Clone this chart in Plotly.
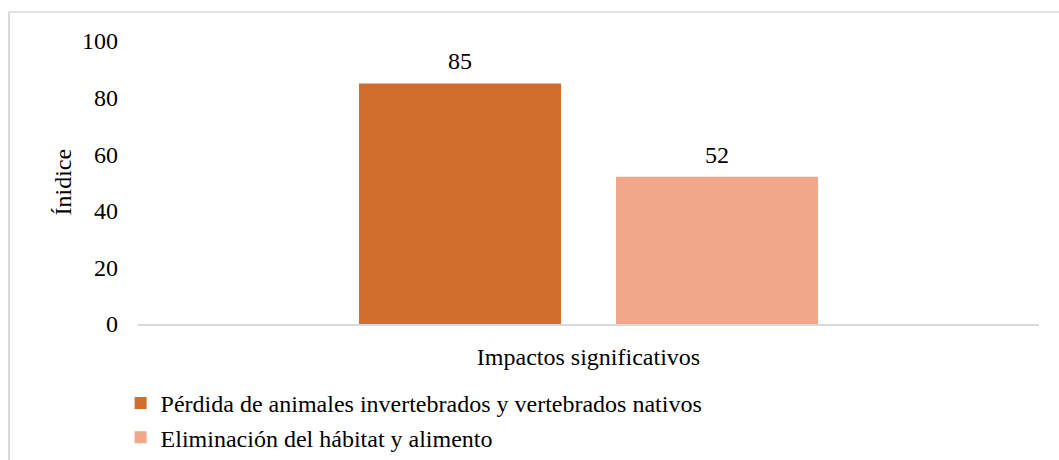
import plotly.graph_objects as go

# Data
category = ["Impactos significativos"]
series_names = [
    "Pérdida de animales invertebrados y vertebrados nativos",
    "Eliminación del hábitat y alimento",
]
series_values = [85, 52]
series_colors = ["#D26E2B", "#F1A78A"]
y_ticks = [0, 20, 40, 60, 80, 100]
y_title = "Ínidice"

FONT = "Liberation Serif"
FS = 24

fig = go.Figure()
for name, val, col in zip(series_names, series_values, series_colors):
    fig.add_trace(go.Bar(
        x=category, y=[val], name=name, marker=dict(color=col, line=dict(width=0)),
        hoverinfo="skip",
    ))

# Value labels above each bar
n = len(series_values)
for i, val in enumerate(series_values):
    fig.add_annotation(
        x=category[0], y=val, text=str(val), showarrow=False,
        xref="x", yref="y", yanchor="bottom", yshift=7,
        xshift=(i - (n - 1) / 2) * 257,
        font=dict(family=FONT, size=FS, color="#000000"),
    )

# Y axis title
fig.add_annotation(
    x=-76 / 901, y=0.5, xref="paper", yref="paper", text=y_title,
    textangle=-90, showarrow=False, xanchor="center", yanchor="middle",
    font=dict(family=FONT, size=FS, color="#000000"),
)

fig.update_layout(
    width=1059, height=460,
    margin=dict(l=138, r=20, t=41, b=136, autoexpand=False),
    paper_bgcolor="white", plot_bgcolor="white",
    barmode="group", bargap=0.4295, bargroupgap=0.214,
    font=dict(family=FONT, size=FS, color="#000000"),
    showlegend=True,
    legend=dict(
        orientation="v", xref="container", yref="container",
        x=0.1139, y=0.0, xanchor="left", yanchor="bottom",
        font=dict(family=FONT, size=FS, color="#000000"),
        bgcolor="rgba(0,0,0,0)", tracegroupgap=0, itemwidth=30,
    ),
    xaxis=dict(
        showline=True, linecolor="#D9D9D9", linewidth=1.5,
        showgrid=False, ticks="", ticklabelstandoff=10,
        tickfont=dict(family=FONT, size=FS),
    ),
    yaxis=dict(
        range=[0, 100], tickvals=y_ticks, showgrid=False, zeroline=False,
        showline=False, ticks="", ticklabelstandoff=19,
        tickfont=dict(family=FONT, size=FS),
    ),
    shapes=[
        # chart frame (top and left edges visible)
        dict(type="line", xref="paper", yref="paper",
             x0=-129 / 901, x1=1.1, y0=(324 - 12) / 283, y1=(324 - 12) / 283,
             line=dict(color="#D9D9D9", width=1.5)),
        dict(type="line", xref="paper", yref="paper",
             x0=-129 / 901, x1=-129 / 901, y0=(324 - 12) / 283, y1=-1,
             line=dict(color="#D9D9D9", width=2)),
    ],
)

fig.write_html("out.html")
